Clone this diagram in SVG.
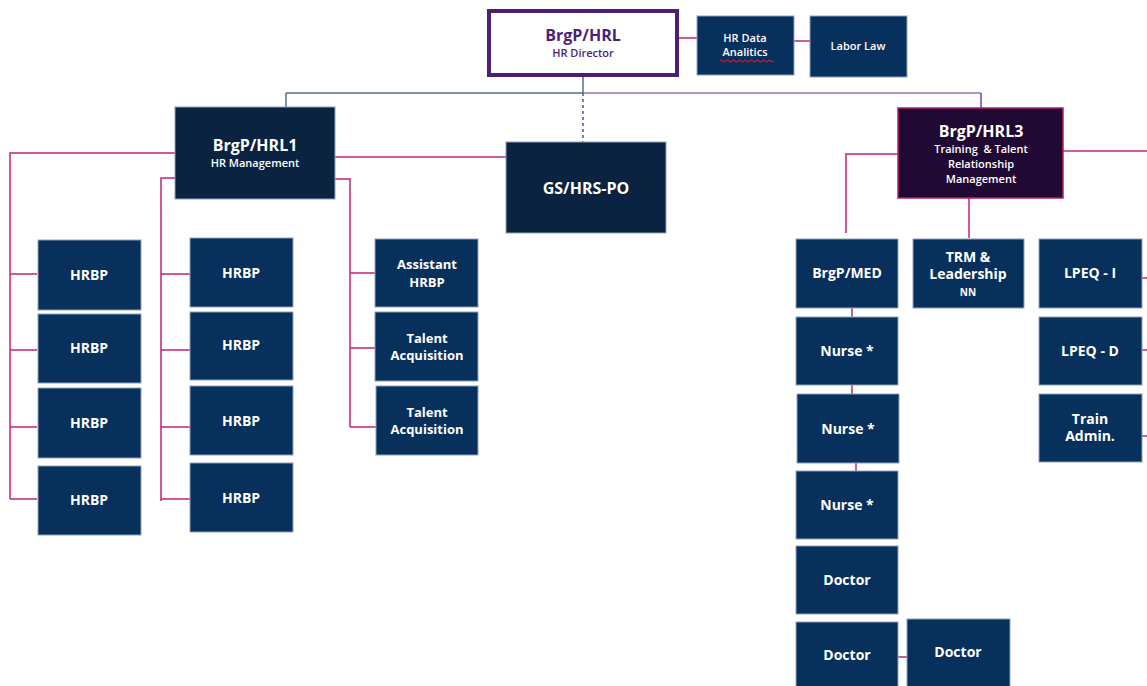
<svg xmlns="http://www.w3.org/2000/svg" width="1147" height="686" viewBox="0 0 1147 686">
<style>
.box{fill:#08305c;stroke:#8ea2bd;stroke-width:1}
.dark{fill:#0a2341;stroke:#8ea2bd;stroke-width:1}
.t{font-family:"Open Sans","Liberation Sans",sans-serif;font-weight:bold;fill:#ffffff;text-anchor:middle}
.b{font-size:14px}
.m{font-size:13px}
.s{font-size:11px;font-weight:600}
.h{font-size:16px}
.c{fill:none;stroke:#c2237a;stroke-width:1.5}
</style>
<rect width="1147" height="686" fill="#ffffff"/>
<g id="connectors">
  <line x1="286" y1="93" x2="583" y2="93" stroke="#4d6f94" stroke-width="1.5"/>
  <line x1="583" y1="93" x2="981" y2="93" stroke="#9a72b8" stroke-width="1.5"/>
  <line x1="583" y1="76" x2="583" y2="93" stroke="#4d6f94" stroke-width="1.5"/>
  <line x1="583" y1="93" x2="583" y2="142" stroke="#7a3f9a" stroke-width="1.5" stroke-dasharray="3,3"/>
  <line x1="286" y1="93" x2="286" y2="107" stroke="#4d6f94" stroke-width="1.5"/>
  <line x1="981" y1="93" x2="981" y2="108" stroke="#7a3f9a" stroke-width="1.5"/>
  <line class="c" x1="678" y1="38" x2="697" y2="38"/>
  <line class="c" x1="794" y1="41" x2="810" y2="41"/>
  <line class="c" x1="335" y1="157" x2="506" y2="157"/>
  <path class="c" d="M175 153 H10 V499 M10 274 H37 M10 350 H37 M10 427 H37 M10 499 H37"/>
  <path class="c" d="M175 178 H161 V501 M161 274 H190 M161 350 H190 M161 427 H190 M161 499 H190"/>
  <path class="c" d="M335 179 H350 V427 M350 273 H375 M350 348 H375 M350 427 H376"/>
  <path class="c" d="M898 154 H846 V233"/>
  <line class="c" x1="969" y1="198" x2="969" y2="238"/>
  <line class="c" x1="1063" y1="151" x2="1147" y2="151"/>
  <line class="c" x1="1142" y1="278" x2="1147" y2="278"/>
  <line class="c" x1="1142" y1="350" x2="1147" y2="350"/>
  <line class="c" x1="1142" y1="436" x2="1147" y2="436"/>
  <line class="c" x1="852" y1="308" x2="852" y2="317"/>
  <line class="c" x1="852" y1="385" x2="852" y2="394"/>
  <line class="c" x1="856" y1="463" x2="856" y2="471"/>
  <line class="c" x1="898" y1="657" x2="907" y2="657"/>
</g>
<g id="hrl">
  <rect x="489" y="11" width="188" height="64" fill="#ffffff" stroke="#4b1f78" stroke-width="4"/>
  <text class="t h" x="583" y="41" style="fill:#4b1f78">BrgP/HRL</text>
  <text class="t s" x="583" y="57" style="fill:#4b1f78">HR Director</text>
</g>
<g id="hrdata">
  <rect class="box" x="697" y="16" width="97" height="59"/>
  <text class="t s" x="745" y="42">HR Data</text>
  <text class="t s" x="745" y="56">Analitics</text>
  <path d="M720 61 q1.5 -2 3 0 t3 0 t3 0 t3 0 t3 0 t3 0 t3 0 t3 0 t3 0 t3 0 t3 0 t3 0 t3 0 t3 0 t3 0 t3 0 t3 0 t3 0" fill="none" stroke="#e0303a" stroke-width="1"/>
</g>
<g id="laborlaw">
  <rect class="box" x="810" y="16" width="97" height="61"/>
  <text class="t s" x="858" y="50">Labor Law</text>
</g>
<g id="hrl1">
  <rect class="dark" x="175" y="107" width="160" height="92"/>
  <text class="t h" x="255" y="151">BrgP/HRL1</text>
  <text class="t s" x="255" y="167">HR Management</text>
</g>
<g id="gshrs">
  <rect class="dark" x="506" y="142" width="160" height="91"/>
  <text class="t h" x="586" y="194">GS/HRS-PO</text>
</g>
<g id="hrbp-l1"><rect class="box" x="38" y="240" width="103" height="70"/><text class="t b" x="89" y="280">HRBP</text></g>
<g id="hrbp-l2"><rect class="box" x="38" y="314" width="103" height="69"/><text class="t b" x="89" y="353">HRBP</text></g>
<g id="hrbp-l3"><rect class="box" x="38" y="388" width="103" height="70"/><text class="t b" x="89" y="428">HRBP</text></g>
<g id="hrbp-l4"><rect class="box" x="38" y="466" width="103" height="69"/><text class="t b" x="89" y="505">HRBP</text></g>
<g id="hrbp-m1"><rect class="box" x="190" y="238" width="103" height="69"/><text class="t b" x="241" y="278">HRBP</text></g>
<g id="hrbp-m2"><rect class="box" x="190" y="312" width="103" height="68"/><text class="t b" x="241" y="350">HRBP</text></g>
<g id="hrbp-m3"><rect class="box" x="190" y="386" width="103" height="69"/><text class="t b" x="241" y="426">HRBP</text></g>
<g id="hrbp-m4"><rect class="box" x="190" y="463" width="103" height="69"/><text class="t b" x="241" y="503">HRBP</text></g>
<g id="assistant"><rect class="box" x="375" y="239" width="103" height="68"/><text class="t m" x="427" y="269">Assistant</text><text class="t m" x="427" y="287">HRBP</text></g>
<g id="talent1"><rect class="box" x="375" y="312" width="103" height="69"/><text class="t m" x="427" y="343">Talent</text><text class="t m" x="427" y="360">Acquisition</text></g>
<g id="talent2"><rect class="box" x="376" y="386" width="102" height="69"/><text class="t m" x="427" y="417">Talent</text><text class="t m" x="427" y="434">Acquisition</text></g>
<g id="hrl3">
  <rect x="898" y="108" width="165" height="90" fill="#200a33" stroke="#b0206e" stroke-width="1.5"/>
  <text class="t h" x="981" y="137">BrgP/HRL3</text>
  <text class="t s" x="981" y="153">Training&#160; &amp; Talent</text>
  <text class="t s" x="981" y="168">Relationship</text>
  <text class="t s" x="981" y="183">Management</text>
</g>
<g id="med"><rect class="box" x="796" y="239" width="102" height="69"/><text class="t b" x="847" y="278">BrgP/MED</text></g>
<g id="trm"><rect class="box" x="913" y="239" width="111" height="69"/><text class="t b" x="968" y="262">TRM &amp;</text><text class="t b" x="968" y="279">Leadership</text><text class="t" x="968" y="296" font-size="10">NN</text></g>
<g id="lpeqi"><rect class="box" x="1039" y="239" width="103" height="69"/><text class="t b" x="1090" y="278">LPEQ - I</text></g>
<g id="lpeqd"><rect class="box" x="1039" y="317" width="103" height="68"/><text class="t b" x="1090" y="356">LPEQ - D</text></g>
<g id="train"><rect class="box" x="1039" y="394" width="103" height="68"/><text class="t b" x="1090" y="424">Train</text><text class="t b" x="1090" y="441">Admin.</text></g>
<g id="nurse1"><rect class="box" x="796" y="317" width="102" height="68"/><text class="t b" x="847" y="356">Nurse *</text></g>
<g id="nurse2"><rect class="box" x="797" y="394" width="102" height="69"/><text class="t b" x="848" y="434">Nurse *</text></g>
<g id="nurse3"><rect class="box" x="796" y="471" width="102" height="68"/><text class="t b" x="847" y="510">Nurse *</text></g>
<g id="doctor1"><rect class="box" x="796" y="546" width="102" height="68"/><text class="t b" x="847" y="585">Doctor</text></g>
<g id="doctor2"><rect class="box" x="796" y="622" width="102" height="68"/><text class="t b" x="847" y="660">Doctor</text></g>
<g id="doctor3"><rect class="box" x="907" y="619" width="103" height="71"/><text class="t b" x="958" y="657">Doctor</text></g>
</svg>
